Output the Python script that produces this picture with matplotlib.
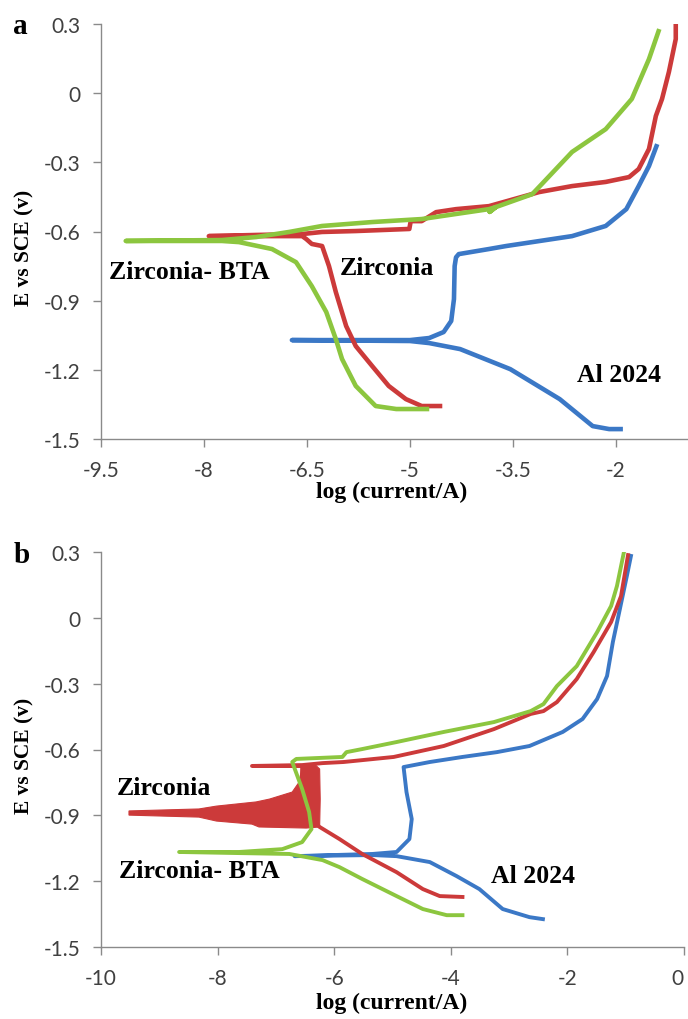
import numpy as np
import matplotlib
matplotlib.use("Agg")
import matplotlib.pyplot as plt

# Tafel curves, E (V vs SCE) against log(current/A)
# panel a
a_al_x = [-1.90, -2.10, -2.34, -2.82, -3.54, -4.27, -4.72, -5.00, -6.72, -5.00, -4.72, -4.51,
          -4.40, -4.36, -4.35, -4.33, -4.29, -3.85, -3.60, -2.64, -2.15, -1.85, -1.67, -1.52, -1.40]
a_al_y = [-1.457, -1.457, -1.444, -1.327, -1.197, -1.110, -1.084, -1.075, -1.071, -1.071, -1.062, -1.036,
          -0.988, -0.893, -0.750, -0.712, -0.698, -0.676, -0.663, -0.620, -0.576, -0.503, -0.403, -0.316, -0.221]

a_zr_x = [-4.53, -4.83, -5.06, -5.31, -5.55, -5.79, -5.93, -6.08, -6.18, -6.28, -6.43, -6.51,
          -6.57, -7.24, -7.93, -7.24, -6.57, -6.28, -5.79, -5.01, -4.99, -4.83, -4.62, -4.33,
          -3.85, -3.12, -2.64, -2.15, -1.81, -1.67, -1.52, -1.42, -1.33, -1.23, -1.13, -1.13]
a_zr_y = [-1.357, -1.357, -1.327, -1.270, -1.184, -1.097, -1.010, -0.863, -0.750, -0.663, -0.654, -0.633,
          -0.620, -0.620, -0.620, -0.615, -0.611, -0.602, -0.598, -0.589, -0.555, -0.555, -0.516, -0.503,
          -0.490, -0.429, -0.403, -0.385, -0.364, -0.329, -0.242, -0.099, -0.025, 0.092, 0.235, 0.300]

a_bta_x = [-4.72, -5.20, -5.50, -5.79, -5.99, -6.08, -6.22, -6.43, -6.66, -7.01, -7.49, -7.74,
           -9.14, -7.74, -7.24, -6.76, -6.28, -5.55, -4.83, -4.33, -3.85, -3.75, -3.84, -3.75,
           -3.22, -3.08, -2.64, -2.15, -1.77, -1.52, -1.37]
a_bta_y = [-1.370, -1.370, -1.357, -1.270, -1.153, -1.067, -0.949, -0.837, -0.733, -0.676, -0.646, -0.641,
           -0.641, -0.637, -0.624, -0.602, -0.576, -0.559, -0.546, -0.524, -0.503, -0.494, -0.515, -0.494,
           -0.438, -0.394, -0.255, -0.156, -0.025, 0.148, 0.278]

# panel b
b_al_x = [-2.42, -2.65, -3.11, -3.51, -3.90, -4.36, -4.93, -5.34, -6.68, -5.34, -4.93, -4.71,
          -4.67, -4.76, -4.81, -4.36, -3.80, -3.21, -2.65, -2.08, -1.74, -1.49, -1.32, -1.22,
          -1.10, -0.98, -0.91]
b_al_y = [-1.373, -1.364, -1.327, -1.236, -1.177, -1.113, -1.086, -1.081, -1.086, -1.076, -1.067, -1.008,
          -0.917, -0.794, -0.680, -0.657, -0.634, -0.612, -0.584, -0.520, -0.461, -0.370, -0.265, -0.110,
          0.040, 0.191, 0.282]

b_zr_x = [-3.80, -4.19, -4.48, -4.93, -5.52, -5.91, -6.25, -6.48, -6.55, -6.55, -7.41, -6.55,
          -6.20, -5.84, -4.98, -4.12, -3.26, -2.63, -2.41, -2.18, -1.84, -1.55, -1.25, -1.08, -0.96]
b_zr_y = [-1.272, -1.268, -1.236, -1.159, -1.076, -1.008, -0.953, -0.90, -0.80, -0.675, -0.675, -0.671,
          -0.662, -0.657, -0.634, -0.584, -0.507, -0.438, -0.425, -0.384, -0.279, -0.156, -0.019, 0.099, 0.286]

# noisy region of the zirconia scan, drawn as a filled outline
b_zr_noise_x = [-6.55, -6.60, -6.72, -7.11, -7.34, -8.02, -8.32, -9.52, -9.52, -8.32, -8.02, -7.41,
                -7.29, -6.48, -6.25, -6.24, -6.25, -6.32]
b_zr_noise_y = [-0.675, -0.748, -0.794, -0.826, -0.839, -0.858, -0.871, -0.880, -0.899, -0.908, -0.926, -0.940,
                -0.953, -0.958, -0.953, -0.826, -0.689, -0.671]

b_bta_x = [-3.80, -4.07, -4.48, -4.93, -5.52, -5.91, -6.20, -6.77, -7.63, -8.66, -7.63, -6.89,
           -6.55, -6.39, -6.43, -6.55, -6.72, -6.65, -5.86, -5.79, -5.52, -4.93, -4.12, -3.26,
           -2.63, -2.41, -2.18, -1.84, -1.49, -1.25, -1.15, -1.03]
b_bta_y = [-1.355, -1.355, -1.327, -1.268, -1.190, -1.136, -1.104, -1.076, -1.072, -1.067, -1.067, -1.054,
           -1.022, -0.963, -0.885, -0.780, -0.657, -0.643, -0.634, -0.612, -0.598, -0.566, -0.520, -0.475,
           -0.425, -0.393, -0.311, -0.220, -0.065, 0.054, 0.145, 0.300]

yticks = [0.3, 0, -0.3, -0.6, -0.9, -1.2, -1.5]
ytick_labels = ["0.3", "0", "-0.3", "-0.6", "-0.9", "-1.2", "-1.5"]
a_xticks = [-9.5, -8, -6.5, -5, -3.5, -2]
a_xtick_labels = ["-9.5", "-8", "-6.5", "-5", "-3.5", "-2"]
b_xticks = [-10, -8, -6, -4, -2, 0]
b_xtick_labels = ["-10", "-8", "-6", "-4", "-2", "0"]

BLUE = "#3b78c6"
RED = "#cc3a3a"
GREEN = "#8cc63f"
SERIF = "Liberation Serif"
SANS = "Lato"

W, H = 688, 1020
fig = plt.figure(figsize=(W / 100, H / 100), dpi=100)


def axes_px(x0, y0, x1, y1):
    return fig.add_axes([x0 / W, 1 - y1 / H, (x1 - x0) / W, (y1 - y0) / H])


def style(ax, xlim, xticks, xlabels):
    ax.set_xlim(*xlim)
    ax.set_ylim(-1.5, 0.3)
    ax.set_xticks(xticks)
    ax.set_xticklabels(xlabels)
    ax.set_yticks(yticks)
    ax.set_yticklabels(ytick_labels)
    for s in ("top", "right"):
        ax.spines[s].set_visible(False)
    for s in ("left", "bottom"):
        ax.spines[s].set_color("#8a8a8a")
        ax.spines[s].set_linewidth(1.0)
    ax.tick_params(direction="out", length=6, width=1, color="#8a8a8a",
                   labelcolor="#404040", labelsize=15)
    ax.tick_params(axis="x", pad=9)
    ax.tick_params(axis="y", pad=9)
    for lab in ax.get_xticklabels() + ax.get_yticklabels():
        lab.set_family(SANS)
    ax.patch.set_alpha(0)


lbl = dict(family=SERIF, fontweight="bold", fontsize=18.5, ha="center", va="center")

# ---- panel a
LW_A = 3.3
ax1 = axes_px(101, 25, 688, 440)
style(ax1, (-9.5, -9.5 + 587 / 68.67), a_xticks, a_xtick_labels)
ax1.plot(a_al_x, a_al_y, color=BLUE, lw=LW_A, solid_joinstyle="round", solid_capstyle="butt")
ax1.plot(a_zr_x, a_zr_y, color=RED, lw=LW_A, solid_joinstyle="round", solid_capstyle="butt")
ax1.plot(a_bta_x, a_bta_y, color=GREEN, lw=LW_A, solid_joinstyle="round", solid_capstyle="butt")
ax1.text(-8.22, -0.775, "Zirconia- BTA", **lbl)
ax1.text(-5.34, -0.755, "Zirconia", **lbl)
ax1.text(-1.96, -1.222, "Al 2024", **lbl)

# ---- panel b
LW_B = 2.8
ax2 = axes_px(101, 553, 684, 948)
style(ax2, (-10, 0), b_xticks, b_xtick_labels)
# last tick label sits at the figure edge, keep it inside
ax2.get_xticklabels()[-1].set_horizontalalignment("right")
ax2.plot(b_al_x, b_al_y, color=BLUE, lw=LW_B, solid_joinstyle="round")
ax2.fill(b_zr_noise_x, b_zr_noise_y, color=RED, lw=0.8)
ax2.plot(b_zr_x, b_zr_y, color=RED, lw=LW_B, solid_joinstyle="round")
ax2.plot([-9.52, -8.3], [-0.889, -0.889], color=RED, lw=LW_B, solid_capstyle="butt")
ax2.plot(b_bta_x, b_bta_y, color=GREEN, lw=LW_B, solid_joinstyle="round")
ax2.text(-8.92, -0.772, "Zirconia", **lbl)
ax2.text(-8.32, -1.150, "Zirconia- BTA", **lbl)
ax2.text(-2.59, -1.173, "Al 2024", **lbl)

# axis titles and panel letters
for yc, xc_lab in ((248, 492), (756, 1003)):
    fig.text(24 / W, 1 - yc / H, "E vs SCE (v)", rotation=90, family=SERIF,
             fontweight="bold", fontsize=15.5, ha="center", va="center")
    fig.text(392 / W, 1 - xc_lab / H, "log (current/A)", family=SERIF,
             fontweight="bold", fontsize=17, ha="center", va="center")
fig.text(20 / W, 1 - 26 / H, "a", family=SERIF, fontweight="bold", fontsize=21,
         ha="center", va="center")
fig.text(22 / W, 1 - 556 / H, "b", family=SERIF, fontweight="bold", fontsize=21,
         ha="center", va="center")

fig.savefig("out.png", dpi=100, facecolor="white")
